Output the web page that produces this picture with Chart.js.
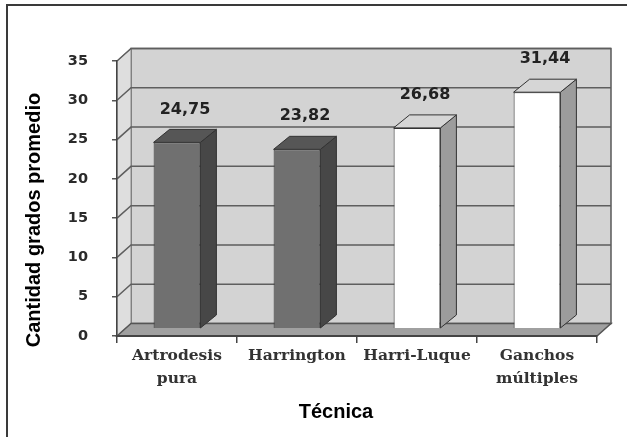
<!DOCTYPE html>
<html>
<head>
<meta charset="utf-8">
<script src="https://cdn.jsdelivr.net/npm/chart.js@4.4.1/dist/chart.umd.min.js"></script>
<style>
  html, body { margin: 0; padding: 0; background: #ffffff; }
  canvas { display: block; }
</style>
</head>
<body>
<canvas id="chart" width="627" height="437"></canvas>
<script>
// Average degrees of correction per surgical technique
const categories = [['Artrodesis', 'pura'], 'Harrington', 'Harri-Luque', ['Ganchos', 'múltiples']];
const gradosPromedio = [24.75, 23.82, 26.68, 31.44];
const yTickStep = 5;
const yMax = 35;
const yTitle = 'Cantidad grados promedio';
const xTitle = 'Técnica';

// Face colours of each column: front, side, top
const frontColors = ['#707070', '#707070', '#ffffff', '#ffffff'];
const sideColors  = ['#474747', '#474747', '#9c9c9c', '#9c9c9c'];
const topColors   = ['#565656', '#565656', '#d6d6d6', '#d6d6d6'];

// 3D depth offsets (pixels)
const WALL_DX = 14, WALL_DY = -12.5;
const BAR_DX = 16, BAR_DY = -13;

const fmt = v => v.toFixed(2).replace('.', ',');

function poly(ctx, pts, fill, stroke, lw) {
  ctx.beginPath();
  ctx.moveTo(pts[0][0], pts[0][1]);
  for (let i = 1; i < pts.length; i++) ctx.lineTo(pts[i][0], pts[i][1]);
  ctx.closePath();
  if (fill) { ctx.fillStyle = fill; ctx.fill(); }
  if (stroke) { ctx.strokeStyle = stroke; ctx.lineWidth = lw || 1; ctx.stroke(); }
}

const scene3d = {
  id: 'scene3d',
  beforeDraw(chart) {
    const { ctx, chartArea: a, scales: { y } } = chart;
    ctx.save();
    // outer frame
    ctx.strokeStyle = '#3a3a3a';
    ctx.lineWidth = 2;
    ctx.beginPath();
    ctx.moveTo(7, 437); ctx.lineTo(7, 5); ctx.lineTo(627, 5);
    ctx.stroke();

    const yz = y.getPixelForValue(0), yt = y.getPixelForValue(y.max);
    const L = a.left, R = a.right;
    // back wall
    poly(ctx, [[L + WALL_DX, yt + WALL_DY], [R + WALL_DX, yt + WALL_DY],
               [R + WALL_DX, yz + WALL_DY], [L + WALL_DX, yz + WALL_DY]], '#d3d3d3', '#5a5a5a', 1.5);
    // side wall
    poly(ctx, [[L, yt], [L + WALL_DX, yt + WALL_DY], [L + WALL_DX, yz + WALL_DY], [L, yz]], '#dedede', '#8a8a8a', 1);
    // gridlines on back and side walls
    ctx.strokeStyle = '#5e5e5e';
    ctx.lineWidth = 1.5;
    for (let v = yTickStep; v <= y.max; v += yTickStep) {
      const py = y.getPixelForValue(v);
      ctx.beginPath();
      ctx.moveTo(L, py);
      ctx.lineTo(L + WALL_DX, py + WALL_DY);
      ctx.lineTo(R + WALL_DX, py + WALL_DY);
      ctx.stroke();
    }
    // floor
    poly(ctx, [[L, yz], [R, yz], [R + WALL_DX, yz + WALL_DY], [L + WALL_DX, yz + WALL_DY]], '#a0a0a0', '#555555', 1.5);
    ctx.restore();
  },
  afterDatasetsDraw(chart) {
    const { ctx } = chart;
    const meta = chart.getDatasetMeta(0);
    ctx.save();
    meta.data.forEach((bar, i) => {
      const p = bar.getProps(['x', 'y', 'base', 'width'], true);
      const l = p.x - p.width / 2, r = p.x + p.width / 2;
      // side face
      poly(ctx, [[r, p.y], [r + BAR_DX, p.y + BAR_DY], [r + BAR_DX, p.base + BAR_DY], [r, p.base]],
           sideColors[i], '#333333', 1);
      // top face
      poly(ctx, [[l, p.y], [l + BAR_DX, p.y + BAR_DY], [r + BAR_DX, p.y + BAR_DY], [r, p.y]],
           topColors[i], '#333333', 1);
      // value label
      ctx.fillStyle = '#222222';
      ctx.font = 'bold 16px "DejaVu Sans"';
      ctx.textAlign = 'center';
      ctx.textBaseline = 'middle';
      ctx.fillText(fmt(gradosPromedio[i]), p.x + BAR_DX / 2, p.y + BAR_DY - 20);
    });
    ctx.restore();
  },
  afterDraw(chart) {
    const { ctx } = chart;
    ctx.save();
    ctx.fillStyle = '#000000';
    ctx.font = 'bold 20px "Liberation Sans", Arial, sans-serif';
    ctx.textAlign = 'center';
    ctx.textBaseline = 'middle';
    ctx.fillText(xTitle, 336, 412);
    ctx.translate(34, 220);
    ctx.rotate(-Math.PI / 2);
    ctx.fillText(yTitle, 0, 0);
    ctx.restore();
  }
};

new Chart(document.getElementById('chart'), {
  type: 'bar',
  data: {
    labels: categories,
    datasets: [{
      data: gradosPromedio,
      yAxisID: 'depth',
      backgroundColor: frontColors,
      borderColor: '#333333',
      borderWidth: 1,
      barPercentage: 0.39,
      categoryPercentage: 1
    }]
  },
  options: {
    responsive: false,
    animation: false,
    events: [],
    layout: { padding: { top: 61, right: 30, left: 0, bottom: 0 } },
    plugins: { legend: { display: false }, tooltip: { enabled: false } },
    scales: {
      x: {
        offset: true,
        afterFit: s => { s.height = 101; },
        grid: { drawOnChartArea: false, drawTicks: true, tickLength: 7, color: '#444444', lineWidth: 1.5 },
        border: { display: true, color: '#444444', width: 2 },
        ticks: {
          color: '#333333',
          padding: 1,
          font: { family: '"DejaVu Serif"', weight: 'bold', size: 15.5, lineHeight: 1.5 },
          maxRotation: 0, autoSkip: false
        }
      },
      y: {
        min: 0,
        max: yMax,
        afterFit: s => { s.width = 117; },
        grid: { drawOnChartArea: false, drawTicks: true, tickLength: 5, color: '#555555', lineWidth: 1.5 },
        border: { display: true, color: '#444444', width: 1.5 },
        ticks: {
          stepSize: yTickStep,
          color: '#2a2a2a',
          padding: 24,
          font: { family: '"DejaVu Sans"', weight: 'bold', size: 14.5 }
        }
      },
      // columns stand half-way into the depth, so they use a slightly reduced scale
      depth: {
        display: false,
        min: -1.07,
        max: 35.6
      }
    }
  },
  plugins: [scene3d]
});
</script>
</body>
</html>
